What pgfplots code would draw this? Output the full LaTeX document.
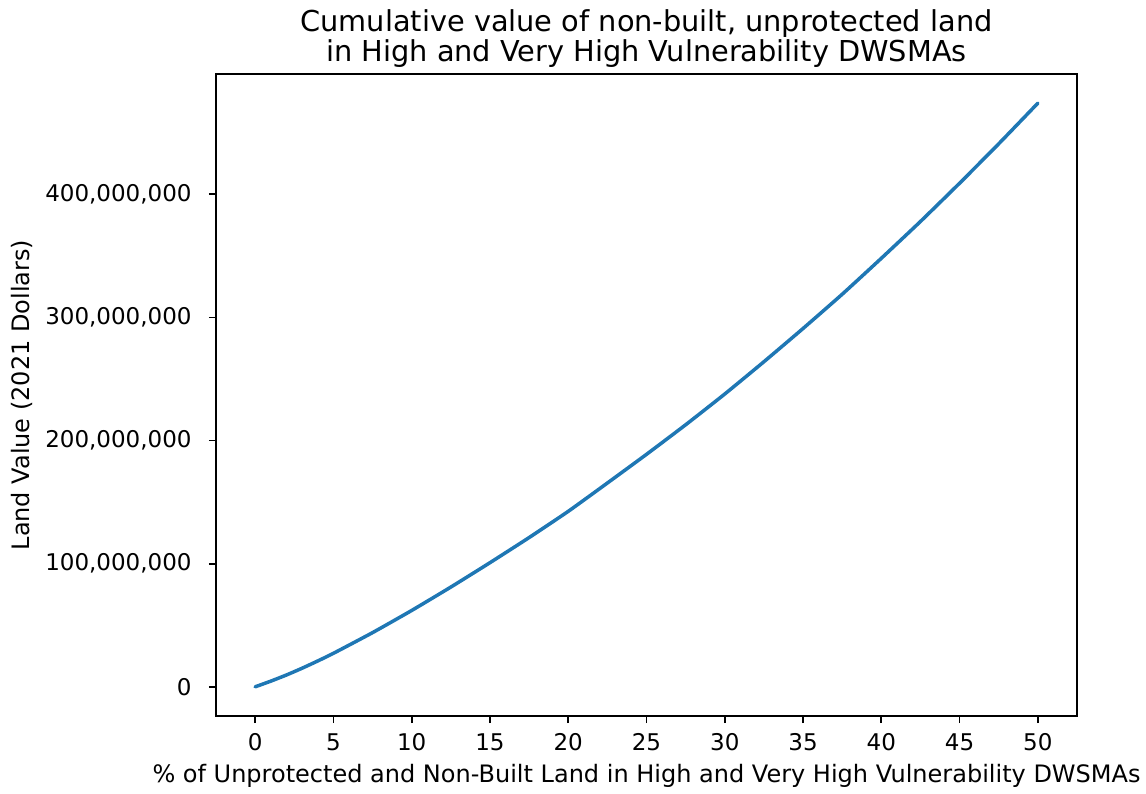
\documentclass[border=0pt]{standalone}
\usepackage{pgfplots}
\pgfplotsset{compat=1.18}
\usepackage{fontspec}
\setmainfont{DejaVu Sans}
\definecolor{mplblue}{HTML}{1F77B4}
\begin{document}
\begin{tikzpicture}
\useasboundingbox (-108pt,-38.5pt) rectangle (465pt,358pt);
\begin{axis}[
  at={(0,0)}, anchor=south west,
  scale only axis, width=430.5pt, height=321pt,
  xmin=-2.5, xmax=52.5,
  ymin=-23.7e6, ymax=497.7e6,
  axis line style={line width=0.9pt},
  tick align=outside, major tick length=3.5pt,
  tick pos=left,
  tick style={line width=0.9pt, black},
  xtick={0,5,...,50},
  ytick={0,100000000,200000000,300000000,400000000},
  yticklabels={0,{100,000,000},{200,000,000},{300,000,000},{400,000,000}},
  scaled y ticks=false,
  /pgf/number format/assume math mode=true,
  ticklabel style={font=\fontsize{11.5}{13}\selectfont},
  yticklabel style={anchor=east, inner sep=0pt, xshift=-8.5pt},
  xticklabel style={anchor=north, inner sep=0pt, yshift=-5pt},
  xlabel={\% of Unprotected and Non-Built Land in High and Very High Vulnerability DWSMAs},
  ylabel={Land Value (2021 Dollars)},
  label style={font=\fontsize{12}{14}\selectfont},
  xlabel style={at={(0.5,0)}, anchor=center, yshift=-30pt, inner sep=0pt},
  ylabel style={at={(0,0.5)}, anchor=center, yshift=97pt, inner sep=0pt},
  title={Cumulative value of non-built, unprotected land\\in High and Very High Vulnerability DWSMAs},
  title style={font=\fontsize{14.4}{15}\selectfont, align=center, at={(0.5,1)}, anchor=south, inner sep=0pt, yshift=-3pt},
  clip=false,
]
\addplot[mplblue, line width=1.75pt, line join=round, line cap=round, smooth, tension=0.3] coordinates {
(0,0) (1,4.6e6) (2,9.6e6) (3,15.1e6) (4,21e6) (5,27.2e6) (7.5,44e6) (10,62e6) (12.5,81e6)
(15,100.8e6) (17.5,121.2e6) (20,142.5e6) (22.5,165.5e6) (25,188.8e6)
(27.5,212.8e6) (30,237.8e6) (32.5,264e6) (35,291e6) (37.5,318.8e6)
(40,348e6) (42.5,377.9e6) (45,409e6) (47.5,441e6) (50,474e6)
};
\end{axis}
\end{tikzpicture}
\end{document}
